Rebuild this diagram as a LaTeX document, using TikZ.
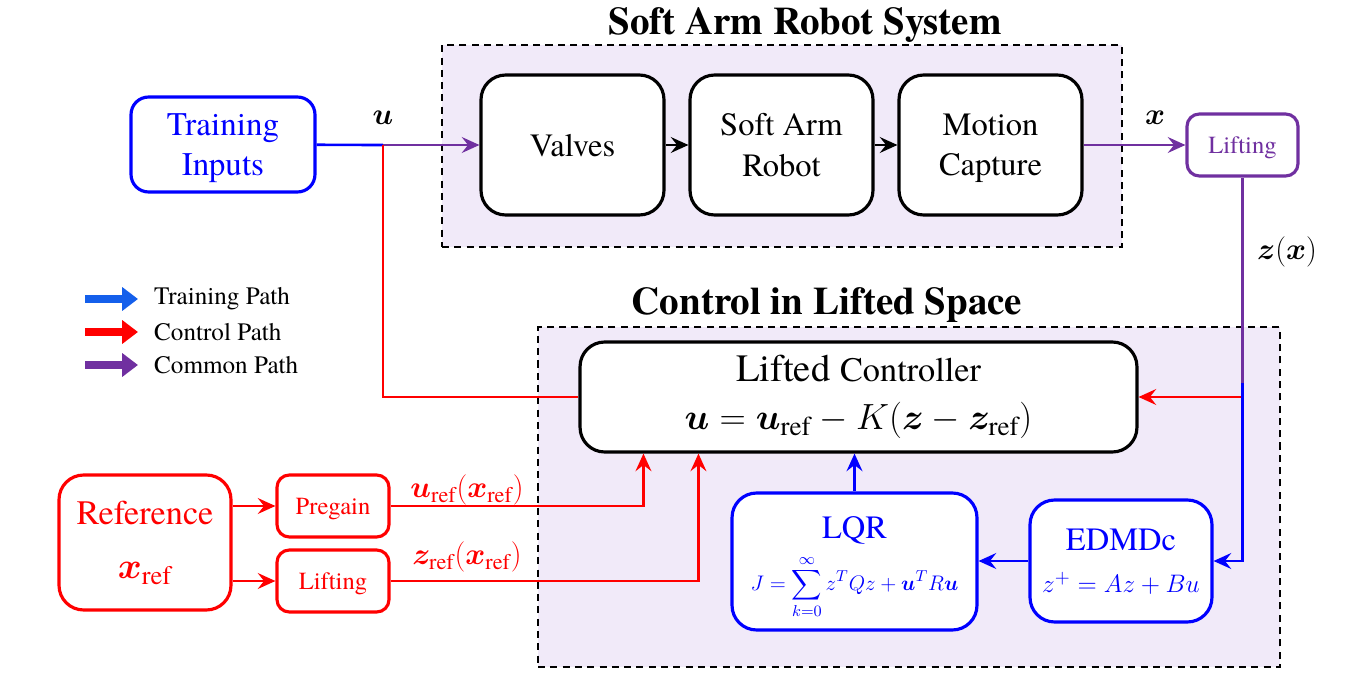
\documentclass[tikz,border=0pt]{standalone}
\usepackage{fontspec}
\IfFontExistsTF{texgyretermes-regular.otf}
  {\setmainfont{texgyretermes}[Extension=.otf, UprightFont=*-regular, BoldFont=*-bold,
     ItalicFont=*-italic, BoldItalicFont=*-bolditalic]}
  {\setmainfont{Liberation Serif}}
\usepackage{amsmath}
\usepackage{bm}
\usepackage{xcolor}
\usetikzlibrary{arrows.meta}

\definecolor{cpurple}{RGB}{112,48,160}
\definecolor{clav}{RGB}{241,234,249}
\definecolor{cblue}{RGB}{0,0,255}
\definecolor{cred}{RGB}{255,0,0}
\definecolor{lblue}{RGB}{20,95,235}

\begin{document}
\begin{tikzpicture}[x=0.02cm, y=-0.02cm,
    blk/.style={rectangle, rounded corners=14pt, draw, line width=1.8pt, fill=white,
      align=center, inner sep=2pt, font=\fontsize{18.5}{23}\selectfont},
    flat/.style={text depth=0pt},
    smallblk/.style={blk, flat, rounded corners=7pt, minimum width=2.22cm, minimum height=1.24cm,
      font=\fontsize{14}{17}\selectfont},
    frame/.style={rectangle, draw, dash pattern=on 4pt off 3pt, line width=0.9pt, fill=clav},
    title/.style={font=\fontsize{22.2}{26}\selectfont\bfseries},
    conn/.style={line width=1.5pt, -{Stealth[length=10pt, width=9pt, inset=3.5pt]}},
    plain/.style={line width=1.5pt},
    lbl/.style={font=\fontsize{17}{20}\selectfont}
    ]
    \useasboundingbox (0,0) rectangle (1350,679);

    % frames
    \node[frame, minimum width=13.6cm, minimum height=4.04cm] (sysframe) at (782,146) {};
    \node[frame, minimum width=14.84cm, minimum height=6.8cm] (ctrlframe) at (909,497) {};
    \node[title] (systitle) at (805,25) {Soft Arm Robot System};
    \node[title] (ctrltitle) at (827,305) {Control in Lifted Space};

    % soft arm system
    \node[blk, flat, minimum width=3.66cm, minimum height=2.8cm] (valves) at (572.5,145) {Valves};
    \node[blk, flat, minimum width=3.66cm, minimum height=2.8cm] (softarm) at (781.5,145) {Soft Arm\\Robot};
    \node[blk, flat, minimum width=3.66cm, minimum height=2.8cm] (mocap) at (990.5,145) {Motion\\Capture};
    \node[blk, flat, draw=cblue, text=cblue, rounded corners=10pt, minimum width=3.68cm, minimum height=1.9cm,
      font=\fontsize{18.8}{23}\selectfont] (training) at (223,144.5) {Training\\Inputs};
    \node[smallblk, draw=cpurple, text=cpurple] (liftx) at (1242.5,145) {Lifting};

    % controller side
    \node[blk, minimum width=11.14cm, minimum height=2.2cm, font=\fontsize{22}{26}\selectfont] (controller) at (858.5,397)
      {Lifted {\fontsize{19.5}{22}\selectfont Controller}\\[1pt]
       {\fontsize{22}{26}\selectfont $\bm{u}=\bm{u}_{\mathrm{ref}}-K(\bm{z}-\bm{z}_{\mathrm{ref}})$}};
    \node[blk, draw=cblue, text=cblue, text depth=9pt, minimum width=4.9cm, minimum height=2.74cm] (lqr) at (854.5,561.5)
      {LQR\\[5pt]
       {\fontsize{12.6}{15}\selectfont $\displaystyle J=\sum_{k=0}^{\infty}z^TQz+\bm{u}^TR\bm{u}$}};
    \node[blk, flat, draw=cblue, text=cblue, minimum width=3.64cm, minimum height=2.44cm] (edmd) at (1121,561)
      {EDMDc\\[1pt]
       {\fontsize{15.5}{18}\selectfont $z^+=Az+Bu$}};
    \node[blk, draw=cred, text=cred, minimum width=3.44cm, minimum height=2.7cm,
      font=\fontsize{19.5}{23}\selectfont] (reference) at (145,542.5)
      {Reference\\[8pt]{\fontsize{21.5}{24}\selectfont$\bm{x}_{\mathrm{ref}}$}};
    \node[smallblk, draw=cred, text=cred, minimum width=2.24cm] (pregain) at (333,506) {Pregain};
    \node[smallblk, draw=cred, text=cred, minimum width=2.24cm] (liftref) at (333,581) {Lifting};

    % junctions
    \coordinate (ujoin) at (383,145);
    \coordinate (zsplit) at (1242.5,383);
    \coordinate (rsplit) at (1242.5,397);

    % connectors
    \draw[plain, cblue] (training) -- (ujoin);
    \draw[conn, cpurple] (ujoin) -- (valves);
    \draw[plain, cred] (ujoin) |- (controller.west);
    \draw[conn, black, line width=1.2pt] (valves) -- (softarm);
    \draw[conn, black, line width=1.2pt] (softarm) -- (mocap);
    \draw[conn, cpurple] (mocap) -- (liftx);
    \draw[plain, cpurple] (liftx) -- (zsplit);
    \draw[conn, cred] (rsplit) -- (controller.east);
    \draw[conn, cblue] (zsplit) |- (edmd.east);
    \draw[conn, cblue] (edmd.west) -- (edmd.west -| lqr.east);
    \draw[conn, cblue] (lqr) -- (lqr.north |- controller.south);
    \draw[conn, cred] (reference.east |- pregain) -- (pregain.west);
    \draw[conn, cred] (reference.east |- liftref) -- (liftref.west);
    \draw[conn, cred] (pregain.east) -| ([xshift=1.3cm]controller.south west);
    \draw[conn, cred] (liftref.east) -| ([xshift=2.4cm]controller.south west);

    % labels
    \node[lbl] (ulbl) at (383,118) {$\bm{u}$};
    \node[lbl] (xlbl) at (1155,118) {$\bm{x}$};
    \node[lbl] (zlbl) at (1287,252) {$\bm{z}(\bm{x})$};
    \node[lbl, text=cred, font=\fontsize{18}{20}\selectfont] (ureflbl) at (467,490) {$\bm{u}_{\mathrm{ref}}(\bm{x}_{\mathrm{ref}})$};
    \node[lbl, text=cred, font=\fontsize{18}{20}\selectfont] (zreflbl) at (467,557) {$\bm{z}_{\mathrm{ref}}(\bm{x}_{\mathrm{ref}})$};

    % legend
    \foreach \col/\txt [count=\i] in {lblue/Training Path, cred/Control Path, cpurple/Common Path} {
      \coordinate (leg\i a) at (85,266+33*\i);
      \coordinate (leg\i b) at (138,266+33*\i);
      \draw[\col, line width=4.5pt, -{Triangle[length=9pt, width=13pt]}] (leg\i a) -- (leg\i b);
      \node[anchor=west, font=\fontsize{14.3}{17}\selectfont] (leg\i t) at (148,266+33*\i) {\txt};
    }
  \end{tikzpicture}
\end{document}
